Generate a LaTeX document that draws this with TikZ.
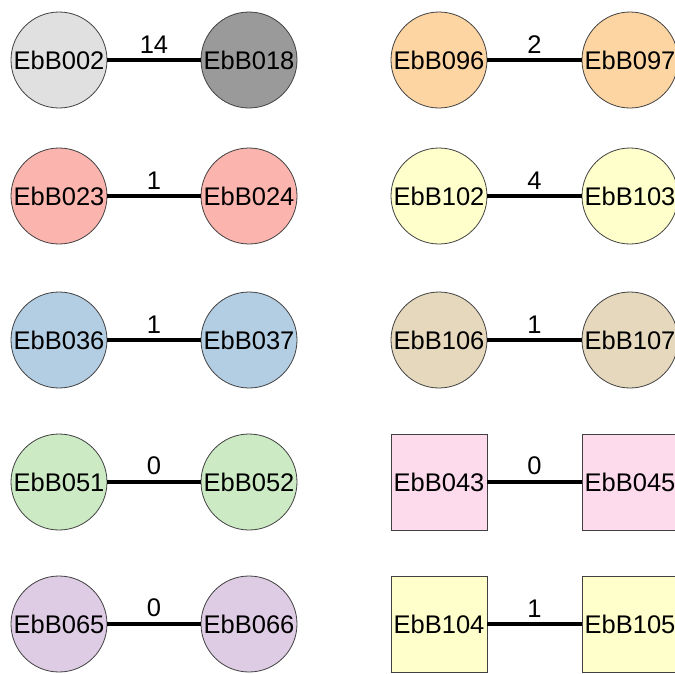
\documentclass[tikz,border=0pt]{standalone}
\usepackage{fontspec}
\setmainfont{Liberation Sans}
\definecolor{grayA}{HTML}{E0E0E0}
\definecolor{grayB}{HTML}{9A9A9A}
\definecolor{redP}{HTML}{FBB4AE}
\definecolor{blueP}{HTML}{B3CDE3}
\definecolor{greenP}{HTML}{CCEBC5}
\definecolor{purpleP}{HTML}{DECBE4}
\definecolor{orangeP}{HTML}{FDD5A3}
\definecolor{yellowP}{HTML}{FFFFCC}
\definecolor{tanP}{HTML}{E5D8BD}
\definecolor{pinkP}{HTML}{FDDAEC}
\begin{document}
\begin{tikzpicture}[x=1pt, y=-1pt,
    strain/.style={circle, draw=black!75, line width=0.8pt, minimum size=96pt, inner sep=0pt, font=\fontsize{25.5}{30}\selectfont},
    strainbox/.style={rectangle, draw=black!75, line width=0.8pt, minimum width=96pt, minimum height=96pt, inner sep=0pt, font=\fontsize{25.5}{30}\selectfont},
    link/.style={line width=3.6pt},
    weight/.style={midway, above=5pt, inner sep=0pt, font=\fontsize{25.5}{30}\selectfont}]
    \useasboundingbox (0,0) rectangle (675,673);
    \def\xa{59}
    \def\xb{249}
    \def\xc{439}
    \def\xd{630}
    \def\ya{60}
    \def\yb{196}
    \def\yc{340}
    \def\yd{482}
    \def\ye{624}

    % Left column of pairs
    \node[strain, fill=grayA] (b002) at (\xa, \ya) {EbB002};
    \node[strain, fill=grayB] (b018) at (\xb, \ya) {EbB018};
    \draw[link] (b002) -- (b018) node[weight] {14};

    \node[strain, fill=redP] (b023) at (\xa, \yb) {EbB023};
    \node[strain, fill=redP] (b024) at (\xb, \yb) {EbB024};
    \draw[link] (b023) -- (b024) node[weight] {1};

    \node[strain, fill=blueP] (b036) at (\xa, \yc) {EbB036};
    \node[strain, fill=blueP] (b037) at (\xb, \yc) {EbB037};
    \draw[link] (b036) -- (b037) node[weight] {1};

    \node[strain, fill=greenP] (b051) at (\xa, \yd) {EbB051};
    \node[strain, fill=greenP] (b052) at (\xb, \yd) {EbB052};
    \draw[link] (b051) -- (b052) node[weight] {0};

    \node[strain, fill=purpleP] (b065) at (\xa, \ye) {EbB065};
    \node[strain, fill=purpleP] (b066) at (\xb, \ye) {EbB066};
    \draw[link] (b065) -- (b066) node[weight] {0};

    % Right column of pairs
    \node[strain, fill=orangeP] (b096) at (\xc, \ya) {EbB096};
    \node[strain, fill=orangeP] (b097) at (\xd, \ya) {EbB097};
    \draw[link] (b096) -- (b097) node[weight] {2};

    \node[strain, fill=yellowP] (b102) at (\xc, \yb) {EbB102};
    \node[strain, fill=yellowP] (b103) at (\xd, \yb) {EbB103};
    \draw[link] (b102) -- (b103) node[weight] {4};

    \node[strain, fill=tanP] (b106) at (\xc, \yc) {EbB106};
    \node[strain, fill=tanP] (b107) at (\xd, \yc) {EbB107};
    \draw[link] (b106) -- (b107) node[weight] {1};

    \node[strainbox, fill=pinkP] (b043) at (\xc, \yd) {EbB043};
    \node[strainbox, fill=pinkP] (b045) at (\xd, \yd) {EbB045};
    \draw[link] (b043) -- (b045) node[weight] {0};

    \node[strainbox, fill=yellowP] (b104) at (\xc, \ye) {EbB104};
    \node[strainbox, fill=yellowP] (b105) at (\xd, \ye) {EbB105};
    \draw[link] (b104) -- (b105) node[weight] {1};
\end{tikzpicture}
\end{document}
